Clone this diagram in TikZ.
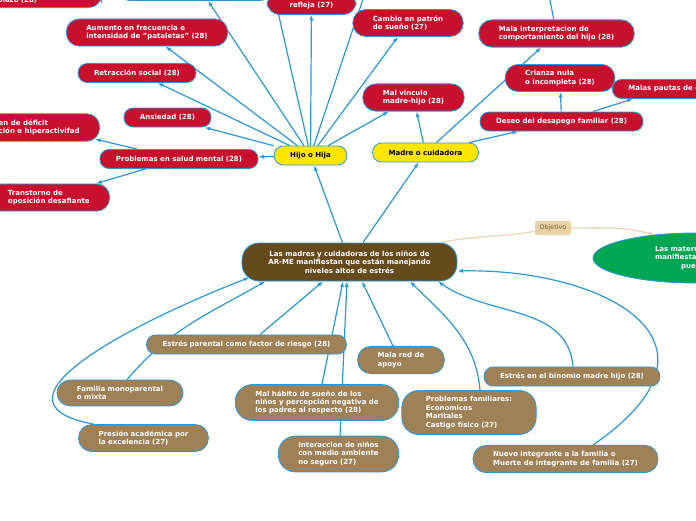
\documentclass[tikz,border=0pt]{standalone}
\usepackage{fontspec}
\setmainfont{DejaVu Sans}
\usepackage{tikz}
\usetikzlibrary{shapes.geometric, arrows.meta, backgrounds}
\usepackage{xcolor}
\definecolor{mapred}{RGB}{200,16,46}
\definecolor{maptan}{RGB}{158,129,86}
\definecolor{mapbrown}{RGB}{101,74,28}
\definecolor{mapyellow}{RGB}{255,230,0}
\definecolor{mapgreen}{RGB}{0,166,81}
\definecolor{linkblue}{RGB}{40,152,222}
\definecolor{objbeige}{RGB}{232,215,180}
\definecolor{objfill}{RGB}{233,211,166}
\definecolor{objtext}{RGB}{105,90,65}

\begin{document}
\begin{tikzpicture}[
    x=1pt, y=1pt,
    box/.style={rectangle, draw=linkblue, line width=0.8pt, align=left, inner xsep=20pt, inner ysep=6pt, rounded corners=13pt, text=white, font=\bfseries\fontsize{7}{8.4}\selectfont},
    one/.style={inner xsep=16pt, minimum height=19pt, rounded corners=9pt},
    big/.style={rounded corners=17pt},
    redbox/.style={box, fill=mapred},
    tanbox/.style={box, fill=maptan},
    hub/.style={box, one, fill=mapyellow, text=black},
    link/.style={-{Latex[length=5.5pt]}, line width=1.2pt, color=linkblue},
    objline/.style={line width=1.3pt, color=objbeige}
]
    \useasboundingbox (0,0) rectangle (696,-520);

    \node[hub] (hijo) at (310.5,-155.5) {Hijo o Hija};
    \node[hub] (madre) at (425.5,-152.5) {Madre o cuidadora};
    \node[box, big, fill=mapbrown, align=center, minimum width=215pt, minimum height=38pt] (central) at (349.5,-262) {Las madres y cuidadoras de los niños de\\AR-ME manifiestan que están manejando\\niveles altos de estrés};

    \node[redbox, anchor=south east, text width=84pt, inner ysep=4pt] (plazo) at (102,-8) {\mbox{}\\plazo (28)};
    \node[redbox, one, anchor=south, minimum width=150pt, line width=1.5pt] (topnode) at (195,-0.8) {};
    \node[redbox, anchor=south, minimum width=89pt, align=center, inner xsep=16pt] (refleja) at (311.5,-15) {\mbox{}\\refleja (27)};
    \node[redbox] (cambio) at (408,-23) {Cambio en patrón\\de sueño (27)};
    \node[redbox] (aumento) at (147,-32.5) {Aumento en frecuencia e\\intensidad de "pataletas" (28)};
    \node[redbox, one] (retraccion) at (137,-73) {Retracción social (28)};
    \node[redbox, one] (ansiedad) at (167.5,-117.5) {Ansiedad (28)};
    \node[redbox, anchor=east] (tdah) at (100,-127.5) {en de déficit\\ción e hiperactivifad};
    \node[redbox, one] (salud) at (179,-159) {Problemas en salud mental (28)};
    \node[redbox, anchor=east] (tod) at (110,-197.5) {Transtorno de\\oposición desafiante};

    \node[redbox] (vinculo) at (413.5,-97.5) {Mal vinculo\\madre-hijo (28)};
    \node[redbox] (malainterp) at (556.5,-33.5) {Mala interpretacion de\\comportamiento del hijo (28)};
    \node[redbox, one] (desapego) at (561.5,-121.5) {Deseo del desapego familiar (28)};
    \node[redbox] (crianza) at (560,-78) {Crianza nula\\o incompleta (28)};
    \node[redbox, one, anchor=west] (pautas) at (612,-89) {Malas pautas de c};

    \node[rectangle, rounded corners=2pt, fill=objfill, text=objtext, font=\fontsize{6.4}{7.5}\selectfont, inner xsep=4.5pt, minimum height=14pt] (objetivo) at (553,-228) {Objetivo};
    \node[ellipse, draw=linkblue, line width=0.8pt, fill=mapgreen, text=white, font=\bfseries\fontsize{7}{8.4}\selectfont, minimum width=204pt, minimum height=50pt, text width=80pt, align=left, inner sep=1pt] (goal) at (695,-258) {Las matern\\manifiestan\\\hspace*{26pt}pue};

    \node[tanbox, one] (parental) at (246.5,-344.5) {Estrés parental como factor de riesgo (28)};
    \node[tanbox] (familia) at (120,-393) {Familia monoparental\\o mixta};
    \node[tanbox] (presion) at (143.5,-438) {Presión académica por\\la excelencia (27)};
    \node[tanbox] (redapoyo) at (401,-360) {Mala red de\\apoyo};
    \node[tanbox, big] (habito) at (317,-402.5) {Mal hábito de sueño de los\\niños y percepción negativa de\\los padres al respecto (28)};
    \node[tanbox, big] (interaccion) at (338.5,-454) {Interaccion de niños\\con medio ambiente\\no seguro (27)};
    \node[tanbox, big, inner xsep=24pt] (probfam) at (469,-412.5) {Problemas familiares:\\Economicos\\Maritales\\Castigo físico (27)};
    \node[tanbox, one] (binomio) at (572,-376.5) {Estrés en el binomio madre hijo (28)};
    \node[tanbox] (nuevo) at (565.5,-459) {Nuevo integrante a la familia o\\Muerte de integrante de familia (27)};

    \coordinate (upA) at (273,10);
    \coordinate (upB) at (366,10);
    \coordinate (upC) at (548,10);

    \begin{scope}[on background layer]
    \draw[link] (hijo) -- ([xshift=13pt]topnode.south);
    \draw[link] (hijo) -- (upA);
    \draw[link] (hijo) -- (refleja);
    \draw[link] (hijo) -- (upB);
    \draw[link] (hijo) -- (cambio);
    \draw[link] (hijo) -- (vinculo);
    \draw[link] (hijo) -- (aumento);
    \draw[link] (hijo) -- (retraccion);
    \draw[link] (hijo) -- (ansiedad);
    \draw[link] (hijo) -- (salud);
    \draw[link] (salud) -- ([xshift=-5pt,yshift=2.5pt]tdah.south east);
    \draw[link] (salud) -- (tod);

    \draw[link] (central) -- (hijo);
    \draw[link] (central) -- (madre);
    \draw[link] (madre) -- (vinculo);
    \draw[link] (madre) -- (malainterp);
    \draw[link] (madre) -- (desapego);
    \draw[link] (desapego) -- (crianza);
    \draw[link] (desapego) -- (pautas);
    \draw[link] (malainterp) -- (upC);

    \draw[objline] (central) to[out=12,in=190] (objetivo);
    \draw[objline, -{Latex[length=6pt]}] (objetivo) to[out=0,in=165] ([xshift=-40pt,yshift=23pt]goal.center);

    \draw[link] ([xshift=-50pt]presion.north) .. controls (-25,-402) and (140,-320) .. ([xshift=-100pt,yshift=4pt]central.south);
    \draw[link] ([xshift=7pt]familia.north) to[out=50,in=-150] ([xshift=-84.5pt]central.south);
    \draw[link] ([xshift=13.5pt]parental.north) -- ([xshift=-26.5pt]central.south);
    \draw[link] ([xshift=5pt]habito.north) -- ([xshift=-6.5pt]central.south);
    \draw[link] ([xshift=1.5pt]interaccion.north) -- ([xshift=-2.5pt]central.south);
    \draw[link] ([xshift=-8pt]redapoyo.north) -- ([xshift=12.5pt]central.south);
    \draw[link] ([xshift=11pt]probfam.north) to[out=95,in=-45] ([xshift=60.5pt]central.south);
    \draw[link] ([xshift=1pt]binomio.north) to[out=95,in=-35] ([xshift=88.5pt]central.south);
    \draw[link] ([xshift=27.5pt]nuevo.north) .. controls (745,-340) and (600,-268) .. ([yshift=-9pt]central.east);
    \end{scope}
\end{tikzpicture}
\end{document}
